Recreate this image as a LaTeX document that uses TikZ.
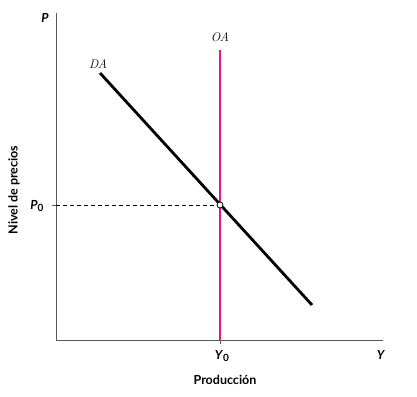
\documentclass[tikz,border=0pt]{standalone}
\usepackage{fontspec}
\setsansfont{Lato}
\usetikzlibrary{positioning,calc}
\definecolor{oacolor}{RGB}{224,26,142}
\tikzstyle{axis}=[draw=black!65,line width=0.9pt]
\tikzstyle{curve}=[draw=black,line width=2.8pt]
\tikzstyle{supply}=[draw=oacolor,line width=2.8pt]
\tikzstyle{guide}=[draw=black,dashed,dash pattern=on 4pt off 3pt,line width=0.6pt]
\tikzstyle{axislabel}=[font=\sffamily\bfseries\fontsize{12.5}{14}\selectfont,inner sep=1pt]
\tikzstyle{curvelabel}=[font=\itshape\fontsize{12.5}{14}\selectfont,inner sep=1pt]
\tikzstyle{eqpoint}=[circle,draw=black,fill=white,line width=0.8pt,inner sep=0pt,minimum size=6pt]
\def\sub#1{\raisebox{-0.45ex}{\fontsize{10}{11}\selectfont\upshape #1}}

\begin{document}
\begin{tikzpicture}[x=1pt,y=1pt]
    \useasboundingbox (0,0) rectangle (417,396);
    % axes
    \coordinate (origin) at (56,56);
    \coordinate (ytop) at (56,383);
    \coordinate (xend) at (383,56);
    \draw[axis] (ytop) -- (origin) -- (xend);
    \node[axislabel] (plabel) at (45,378) {\textit{P}};
    \node[axislabel] (ylabel) at (381,41) {\textit{Y}};
    \node[axislabel,rotate=90] (ptitle) at (14,206) {Nivel de precios};
    \node[axislabel] (ytitle) at (225,16) {Producción};
    % curves
    \coordinate (da1) at (100,323);
    \coordinate (da2) at (312,91);
    \coordinate (oa1) at (220,346);
    \coordinate (oa2) at (220,56);
    \draw[supply] (oa1) -- (oa2);
    \draw[curve] (da1) -- (da2);
    \node[curvelabel] (dalabel) at (98,332) {DA};
    \node[curvelabel] (oalabel) at (220,359) {OA};
    % equilibrium
    \coordinate (p0) at (56,191);
    \coordinate (y0) at (220,56);
    \node[eqpoint] (eq) at (220,191) {};
    \draw[guide] (p0) -- (eq);
    \draw[axis] (p0) -- ++(-4,0);
    \draw[axis] (y0) -- ++(0,-4);
    \node[axislabel] (p0label) at (37,190) {\textit{P}\sub{0}};
    \node[axislabel] (y0label) at (222,40) {\textit{Y}\sub{0}};
\end{tikzpicture}
\end{document}
